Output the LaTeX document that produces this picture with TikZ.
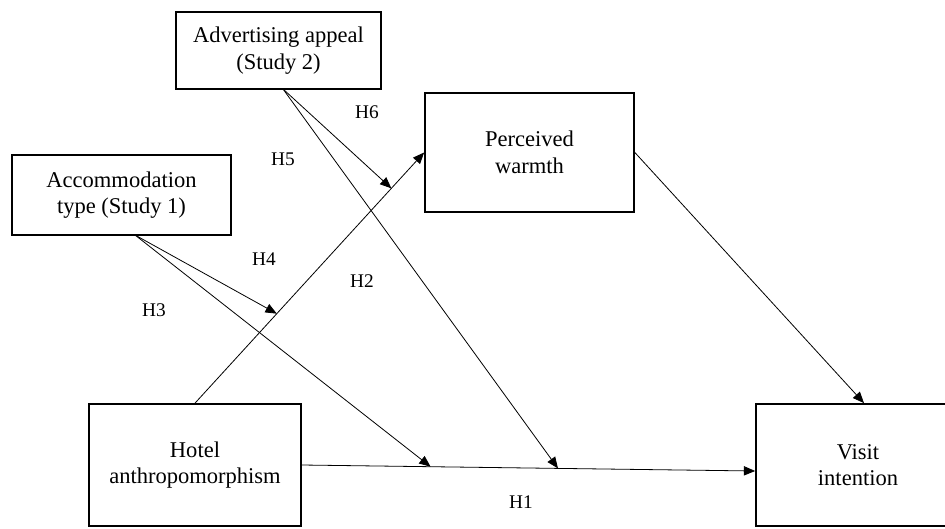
\documentclass[tikz,border=0pt]{standalone}
\usepackage{fontspec}
\setmainfont{Liberation Serif}
\usetikzlibrary{arrows.meta}

\begin{document}
\begin{tikzpicture}[
    x=0.75pt, y=-0.75pt,
    construct/.style={draw, line width=1.3pt, align=center, inner sep=0pt, font=\fontsize{16.9}{20}\selectfont},
    hyp/.style={font=\fontsize{14.5}{17}\selectfont},
    arrow/.style={-{Triangle[length=8.5pt, width=7pt]}, line width=0.6pt}
]
\useasboundingbox (0,0) rectangle (945,528);

\node[construct, minimum width=153.75pt, minimum height=57.75pt] (appeal) at (278.5,50.5) {Advertising appeal\\(Study 2)};
\node[construct, minimum width=164.25pt, minimum height=60pt] (accom) at (121.5,195) {Accommodation\\type (Study 1)};
\node[construct, minimum width=156.75pt, minimum height=89.25pt] (warmth) at (529.5,152.5) {Perceived\\warmth};
\node[construct, minimum width=159pt, minimum height=91.5pt] (hotel) at (195,465) {Hotel\\anthropomorphism};
\node[construct, minimum width=153pt, minimum height=91.5pt] (visit) at (858,465) {Visit\\intention};

% Moderation points
\path (hotel.north) -- coordinate[pos=0.357] (m4) coordinate[pos=0.857] (m6) (warmth.west);
\path (hotel.east) -- coordinate[pos=0.284] (m3) coordinate[pos=0.565] (m5) ([yshift=-4.5pt]visit.west);
\coordinate (accout) at (135,235);
\coordinate (appout) at (283,89);

% Hypothesis labels
\node[hyp] (h1) at (521,502) {H1};
\node[hyp] (h2) at (362,281) {H2};
\node[hyp] (h3) at (154,310) {H3};
\node[hyp] (h4) at (264,259) {H4};
\node[hyp] (h5) at (283,159) {H5};
\node[hyp] (h6) at (367,112) {H6};

% Arrows
\draw[arrow] (hotel.east) -- ([yshift=-4.5pt]visit.west);
\draw[arrow] (hotel.north) -- (warmth.west);
\draw[arrow] (warmth.east) -- ([xshift=4.5pt]visit.north);
\draw[arrow] (accout) -- (m3);
\draw[arrow] (accout) -- (m4);
\draw[arrow] (appout) -- (m5);
\draw[arrow] (appout) -- (m6);

\end{tikzpicture}
\end{document}
